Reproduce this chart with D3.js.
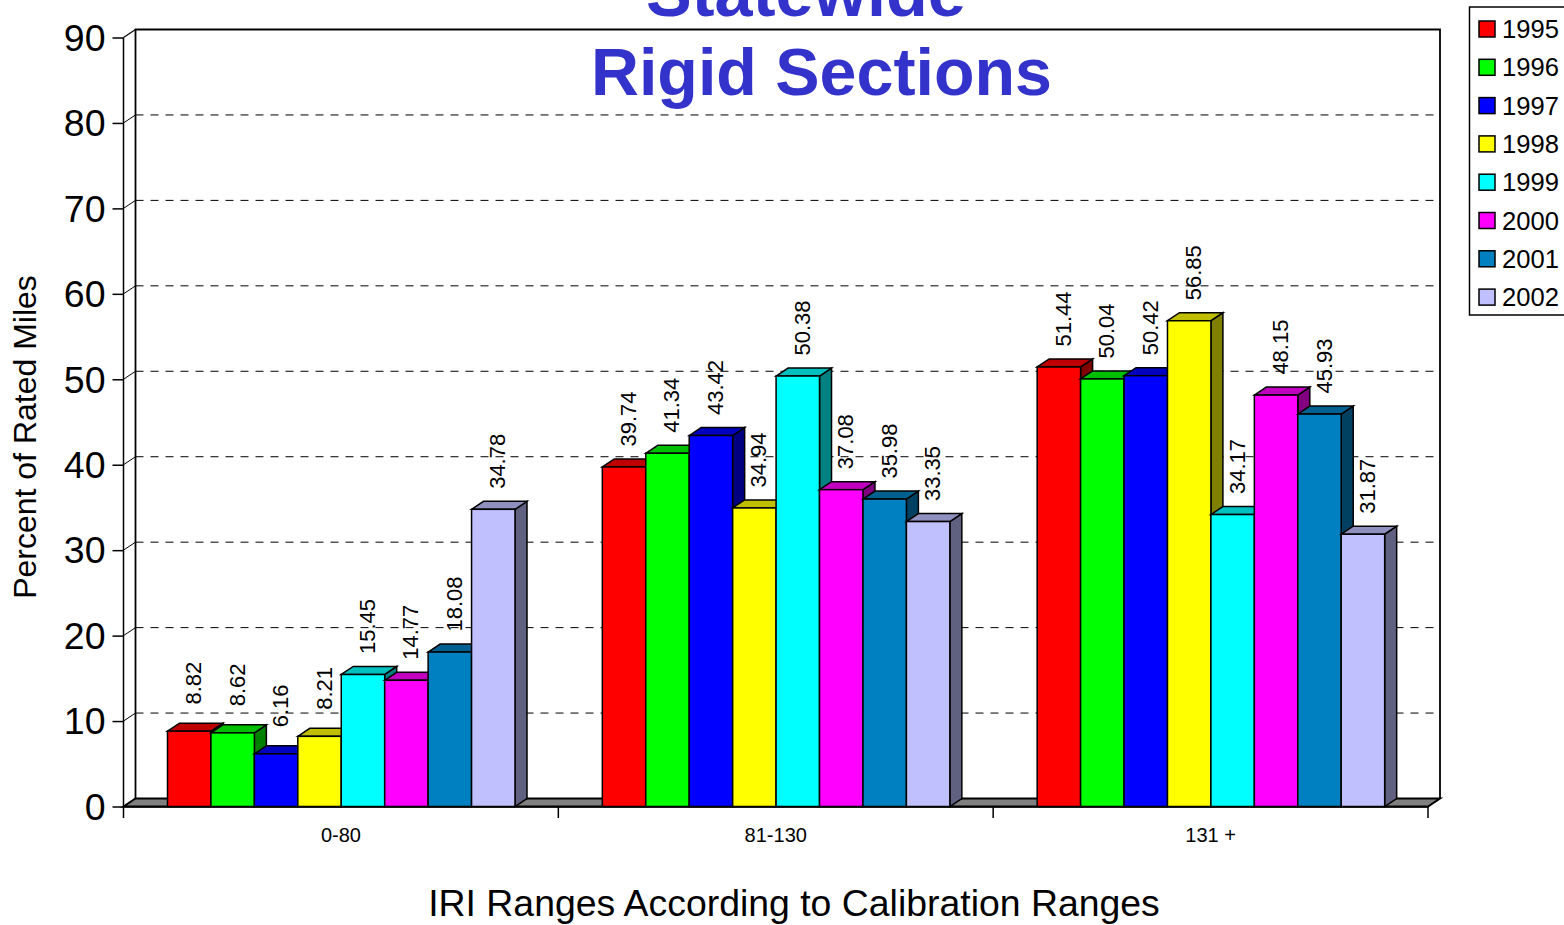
<!DOCTYPE html>
<html>
<head>
<meta charset="utf-8">
<script src="https://cdn.jsdelivr.net/npm/d3@7"></script>
<style>
html, body { margin: 0; padding: 0; background: #fff; overflow: hidden; }
text { font-family: "Liberation Sans", Arial, sans-serif; fill: #000; }
</style>
</head>
<body>
<div id="chart"></div>
<script>
var ranges = ["0-80", "81-130", "131 +"];
var years = ["1995", "1996", "1997", "1998", "1999", "2000", "2001", "2002"];
var colors = ["#ff0000", "#00ff00", "#0000ff", "#ffff00", "#00ffff", "#ff00ff", "#0080c0", "#c0c0ff"];
var yTicks = [0, 10, 20, 30, 40, 50, 60, 70, 80, 90];

var values1995 = [8.82, 39.74, 51.44];
var values1996 = [8.62, 41.34, 50.04];
var values1997 = [6.16, 43.42, 50.42];
var values1998 = [8.21, 34.94, 56.85];
var values1999 = [15.45, 50.38, 34.17];
var values2000 = [14.77, 37.08, 48.15];
var values2001 = [18.08, 35.98, 45.93];
var values2002 = [34.78, 33.35, 31.87];
var seriesValues = [values1995, values1996, values1997, values1998, values1999, values2000, values2001, values2002];

var width = 1564, height = 925;
var dx = 12, dy = -8;   // depth of the fake 3d

var svg = d3.select("#chart").append("svg")
    .attr("width", width)
    .attr("height", height)
    .style("display", "block");

var x0 = d3.scaleBand().domain(ranges).range([123.5, 1428]);
var x1 = d3.scaleBand().domain(years).range([44, 391.5]);
var y = d3.scaleLinear().domain([0, 90]).range([806.5, 37.5]);

function poly(pts) {
    return pts.map(function(p) { return p.join(","); }).join(" ");
}

// shade a colour towards black, used for the top and side faces
function shade(c, k) {
    var rgb = d3.rgb(c);
    return d3.rgb(rgb.r * k, rgb.g * k, rgb.b * k).formatHex();
}

// floor and walls
svg.append("polygon")
    .attr("points", poly([[123.5, 806.5], [123.5 + dx, 806.5 + dy], [1428 + dx, 806.5 + dy], [1428, 806.5]]))
    .attr("fill", "#808080")
    .attr("stroke", "#000")
    .attr("stroke-width", 2);

svg.append("path")
    .attr("d", "M" + (123.5 + dx) + "," + (806.5 + dy) + "V" + (37.5 + dy) + "H" + (1428 + dx) + "V" + (806.5 + dy))
    .attr("fill", "none")
    .attr("stroke", "#000")
    .attr("stroke-width", 1.8);

svg.append("line")
    .attr("x1", 123.5).attr("y1", y(90))
    .attr("x2", 123.5 + dx).attr("y2", y(90) + dy)
    .attr("stroke", "#000")
    .attr("stroke-width", 1.2);

// gridlines on the back wall
svg.selectAll(".grid")
    .data(yTicks.filter(function(d) { return d > 0 && d < 90; }))
    .enter().append("line")
    .attr("class", "grid")
    .attr("x1", 123.5 + dx)
    .attr("x2", 1436)
    .attr("y1", function(d) { return y(d) + dy; })
    .attr("y2", function(d) { return y(d) + dy; })
    .attr("stroke", "#000")
    .attr("stroke-width", 1)
    .attr("stroke-dasharray", "8,7");

svg.selectAll(".wallTick")
    .data(yTicks.filter(function(d) { return d > 0 && d < 90; }))
    .enter().append("line")
    .attr("class", "wallTick")
    .attr("x1", 123.5)
    .attr("x2", 123.5 + dx)
    .attr("y1", function(d) { return y(d); })
    .attr("y2", function(d) { return y(d) + dy; })
    .attr("stroke", "#000")
    .attr("stroke-width", 1);

// y axis
var yAxis = svg.append("g")
    .attr("transform", "translate(123.5,0)")
    .call(d3.axisLeft(y).tickValues(yTicks).tickSize(11).tickPadding(7));
yAxis.selectAll("text").style("font-size", "37.5px").style("font-family", '"Liberation Sans"').attr("dy", "0.34em");
yAxis.selectAll("line, path").attr("stroke", "#000").attr("stroke-width", 1.5);
yAxis.select(".domain").attr("d", "M0," + y(0) + "V" + y(90));

// x axis, labels are centered on the band but the ticks sit on the band edges
var xAxis = svg.append("g")
    .attr("transform", "translate(0,806.5)")
    .call(d3.axisBottom(x0).tickSize(0).tickPadding(21));
xAxis.selectAll("text").style("font-size", "20px").style("font-family", '"Liberation Sans"');
xAxis.select(".domain").attr("stroke", "#000").attr("stroke-width", 1.5);

svg.selectAll(".catTick")
    .data([0, 1, 2, 3])
    .enter().append("line")
    .attr("class", "catTick")
    .attr("x1", function(d) { return 123.5 + d * x0.bandwidth(); })
    .attr("x2", function(d) { return 123.5 + d * x0.bandwidth(); })
    .attr("y1", 806.5)
    .attr("y2", 818)
    .attr("stroke", "#000")
    .attr("stroke-width", 1.5);

// bars, left to right so every bar covers the side of the one before it
ranges.forEach(function(range, i) {
    var left = x0(range);
    var g = svg.append("g").attr("class", "group");

    years.forEach(function(year, j) {
        var v = seriesValues[j][i];
        var bx = left + x1(year);
        var bw = x1.bandwidth();
        var top = y(v);
        var base = y(0);
        var c = colors[j];

        g.append("polygon")
            .attr("points", poly([[bx + bw, top], [bx + bw + dx, top + dy], [bx + bw + dx, base + dy], [bx + bw, base]]))
            .attr("fill", shade(c, 0.5))
            .attr("stroke", "#000")
            .attr("stroke-width", 1.5);
        g.append("polygon")
            .attr("points", poly([[bx, top], [bx + dx, top + dy], [bx + bw + dx, top + dy], [bx + bw, top]]))
            .attr("fill", shade(c, 0.75))
            .attr("stroke", "#000")
            .attr("stroke-width", 1.5);
        g.append("rect")
            .attr("x", bx)
            .attr("y", top)
            .attr("width", bw)
            .attr("height", base - top)
            .attr("fill", c)
            .attr("stroke", "#000")
            .attr("stroke-width", 1.5);
    });
});

// value labels go on top of everything
ranges.forEach(function(range, i) {
    years.forEach(function(year, j) {
        var v = seriesValues[j][i];
        var lx = x0(range) + x1(year) + x1.bandwidth() / 2 + 12;
        var ly = y(v) - 48;
        svg.append("text")
            .attr("transform", "translate(" + lx + "," + ly + ") rotate(-90)")
            .attr("text-anchor", "middle")
            .style("font-size", "22px")
            .text(v.toFixed(2));
    });
});

// title, the first line runs off the top of the picture
svg.append("text")
    .attr("x", 806).attr("y", 15.5)
    .attr("text-anchor", "middle")
    .style("font-size", "68.5px").style("font-weight", "bold").style("fill", "#3333cc")
    .text("Statewide");
svg.append("text")
    .attr("x", 821.5).attr("y", 95)
    .attr("text-anchor", "middle")
    .style("font-size", "66.4px").style("font-weight", "bold").style("fill", "#3333cc")
    .text("Rigid Sections");

// axis titles
svg.append("text")
    .attr("transform", "translate(36,437) rotate(-90)")
    .attr("text-anchor", "middle")
    .style("font-size", "32px")
    .text("Percent of Rated Miles");
svg.append("text")
    .attr("x", 794).attr("y", 916)
    .attr("text-anchor", "middle")
    .style("font-size", "37.4px")
    .text("IRI Ranges According to Calibration Ranges");

// legend
var legend = svg.append("g");
legend.append("rect")
    .attr("x", 1469.5).attr("y", 7)
    .attr("width", 110).attr("height", 308)
    .attr("fill", "#fff")
    .attr("stroke", "#000")
    .attr("stroke-width", 1.5);
years.forEach(function(year, j) {
    var ly = 29 + j * 38.3;
    legend.append("rect")
        .attr("x", 1479).attr("y", ly - 8)
        .attr("width", 16).attr("height", 16)
        .attr("fill", colors[j])
        .attr("stroke", "#000")
        .attr("stroke-width", 1.5);
    legend.append("text")
        .attr("x", 1502).attr("y", ly + 9)
        .style("font-size", "25.6px")
        .text(year);
});
</script>
</body>
</html>
